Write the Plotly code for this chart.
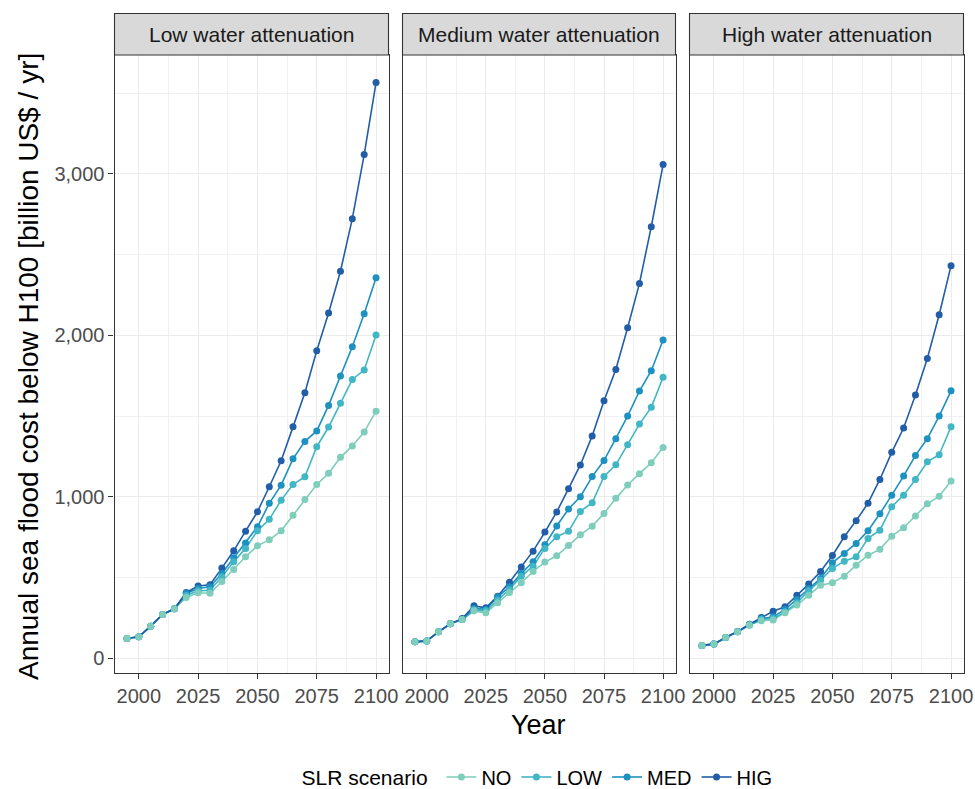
import plotly.graph_objects as go

# ---------------- data ----------------
years = list(range(1995, 2101, 5))
panels = ["Low water attenuation", "Medium water attenuation", "High water attenuation"]
scenarios = ["NO", "LOW", "MED", "HIG"]
colors = {"NO": "#7fcdbb", "LOW": "#41b6c4", "MED": "#1d91c0", "HIG": "#225ea8"}

low_NO = [122, 132, 198, 271, 306, 376, 405, 402, 475, 550, 628, 696, 733, 789, 886, 983, 1076, 1145, 1244, 1315, 1401, 1530]
low_LOW = [122, 132, 198, 271, 306, 388, 417, 421, 504, 597, 680, 789, 860, 979, 1076, 1124, 1310, 1432, 1579, 1727, 1785, 2002]
low_MED = [122, 132, 198, 271, 306, 401, 432, 442, 525, 622, 713, 814, 959, 1072, 1235, 1343, 1408, 1566, 1748, 1930, 2134, 2357]
low_HIG = [122, 132, 198, 271, 306, 407, 447, 455, 558, 665, 787, 907, 1062, 1223, 1433, 1645, 1905, 2138, 2397, 2723, 3120, 3566]

med_NO = [101, 107, 163, 213, 240, 293, 281, 343, 407, 467, 537, 595, 634, 698, 764, 818, 897, 990, 1073, 1143, 1210, 1305]
med_LOW = [101, 107, 163, 213, 240, 298, 293, 360, 426, 508, 570, 680, 752, 787, 909, 963, 1126, 1198, 1322, 1450, 1554, 1740]
med_MED = [101, 107, 163, 213, 240, 308, 302, 380, 442, 525, 597, 702, 819, 924, 1000, 1125, 1224, 1360, 1500, 1655, 1781, 1971]
med_HIG = [101, 107, 163, 213, 245, 324, 312, 384, 471, 564, 663, 781, 906, 1050, 1197, 1377, 1595, 1789, 2047, 2322, 2673, 3058]

high_NO = [79, 87, 128, 163, 205, 231, 236, 281, 329, 389, 451, 467, 508, 576, 638, 674, 756, 808, 880, 956, 1003, 1097]
high_LOW = [79, 87, 128, 163, 205, 240, 246, 287, 343, 417, 483, 556, 601, 628, 742, 793, 938, 1010, 1107, 1217, 1260, 1434]
high_MED = [79, 87, 128, 163, 205, 245, 256, 302, 364, 432, 494, 591, 649, 711, 789, 895, 1010, 1128, 1256, 1360, 1500, 1656]
high_HIG = [79, 87, 128, 165, 210, 252, 291, 318, 389, 459, 537, 636, 752, 852, 960, 1107, 1275, 1426, 1631, 1857, 2128, 2432]

data = {
    panels[0]: {"NO": low_NO, "LOW": low_LOW, "MED": low_MED, "HIG": low_HIG},
    panels[1]: {"NO": med_NO, "LOW": med_LOW, "MED": med_MED, "HIG": med_HIG},
    panels[2]: {"NO": high_NO, "LOW": high_LOW, "MED": high_MED, "HIG": high_HIG},
}

x_ticks = [2000, 2025, 2050, 2075, 2100]
y_ticks = [0, 1000, 2000, 3000]

# ---------------- layout geometry ----------------
# body margin is removed by a small post-script, so the figure fills the window
W, H = 975, 789
FONT = "Liberation Sans, Arial, sans-serif"
panel_px = [(114.5, 388.5), (402.5, 675.5), (689.5, 963.5)]
top_px, bottom_px = 55, 673
strip_top_px = 13.5


def px_x(p):
    return p / W


def px_y(p):
    return 1 - p / H


fig = go.Figure()

# legend entries
for s in scenarios:
    fig.add_trace(go.Scatter(
        x=[None], y=[None], mode="lines+markers", name=s,
        line=dict(color=colors[s], width=1.6),
        marker=dict(color=colors[s], size=7),
        showlegend=True, xaxis="x", yaxis="y",
    ))

for i, p in enumerate(panels):
    ax = "" if i == 0 else str(i + 1)
    # lines first (HIG on top)
    for s in scenarios:
        fig.add_trace(go.Scatter(
            x=years, y=data[p][s], mode="lines",
            line=dict(color=colors[s], width=1.6),
            showlegend=False, hoverinfo="skip",
            xaxis="x" + ax, yaxis="y" + ax,
        ))
    # points (NO on top, as in the reference)
    for s in reversed(scenarios):
        fig.add_trace(go.Scatter(
            x=years, y=data[p][s], mode="markers",
            marker=dict(color=colors[s], size=7),
            showlegend=False, name=s,
            xaxis="x" + ax, yaxis="y" + ax,
        ))

layout = dict(
    width=W, height=H,
    margin=dict(l=0, r=0, t=0, b=0, autoexpand=False),
    paper_bgcolor="white", plot_bgcolor="white",
    font=dict(family=FONT, color="#000000"),
    showlegend=True,
    legend=dict(
        orientation="h", x=px_x(538.5), xanchor="center",
        y=px_y(777), yanchor="middle",
        title=dict(text="SLR scenario ", side="left", font=dict(size=21, color="#000000")),
        font=dict(size=20, color="#000000"),
        itemwidth=30, tracegroupgap=0,
    ),
    shapes=[], annotations=[],
)

for i, p in enumerate(panels):
    key = "" if i == 0 else str(i + 1)
    x0, x1 = panel_px[i]
    layout["xaxis" + key] = dict(
        domain=[px_x(x0), px_x(x1)], range=[1989.75, 2105.25],
        anchor="y" + key, automargin=False,
        tickmode="array", tickvals=x_ticks, ticktext=[str(t) for t in x_ticks],
        ticks="outside", ticklen=5, tickcolor="#333333", tickwidth=1,
        tickfont=dict(size=20, color="#4d4d4d", family=FONT),
        showgrid=True, gridcolor="#ebebeb", gridwidth=1.1,
        minor=dict(tickmode="linear", tick0=1987.5, dtick=25, showgrid=True,
                   gridcolor="#f0f0f0", gridwidth=0.7, ticks=""),
        showline=True, linecolor="#333333", linewidth=1.1, mirror=True,
        zeroline=False, fixedrange=True,
    )
    layout["yaxis" + key] = dict(
        domain=[px_y(bottom_px), px_y(top_px)], range=[-92, 3737],
        anchor="x" + key, automargin=False,
        tickmode="array", tickvals=y_ticks,
        ticktext=["{:,}".format(t) for t in y_ticks] if i == 0 else [""] * len(y_ticks),
        ticks="outside" if i == 0 else "", ticklen=5, tickcolor="#333333", tickwidth=1,
        tickfont=dict(size=20, color="#4d4d4d", family=FONT),
        showticklabels=(i == 0),
        showgrid=True, gridcolor="#ebebeb", gridwidth=1.1,
        minor=dict(tickmode="linear", tick0=500, dtick=1000, showgrid=True,
                   gridcolor="#f0f0f0", gridwidth=0.7, ticks=""),
        showline=True, linecolor="#333333", linewidth=1.1, mirror=True,
        zeroline=False, fixedrange=True,
    )
    # strip
    layout["shapes"].append(dict(
        type="rect", xref="paper", yref="paper",
        x0=px_x(x0), x1=px_x(x1), y0=px_y(top_px), y1=px_y(strip_top_px),
        fillcolor="#d9d9d9", line=dict(color="#333333", width=1.1), layer="above",
    ))
    layout["annotations"].append(dict(
        text=p, xref="paper", yref="paper",
        x=px_x((x0 + x1) / 2), y=px_y((top_px + strip_top_px) / 2),
        xanchor="center", yanchor="middle", showarrow=False,
        font=dict(size=21, color="#1a1a1a", family=FONT),
    ))

layout["annotations"].append(dict(
    text="Year", xref="paper", yref="paper",
    x=px_x(538.5), y=px_y(725), xanchor="center", yanchor="middle",
    showarrow=False, font=dict(size=27, color="#000000", family=FONT),
))
layout["annotations"].append(dict(
    text="Annual sea flood cost below H100 [billion US$ / yr]", xref="paper", yref="paper",
    x=px_x(28), y=px_y(367), xanchor="center", yanchor="middle", textangle=-90,
    showarrow=False, font=dict(size=28, color="#000000", family=FONT),
))

fig.update_layout(**layout)
fig.write_html(
    "out.html",
    config={"displayModeBar": False},
    post_script="document.body.style.margin='0';document.body.style.overflow='hidden';",
)
